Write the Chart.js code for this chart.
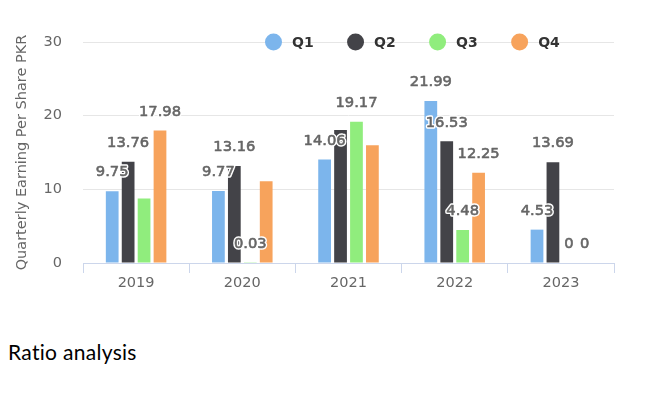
<!DOCTYPE html>
<html><head><meta charset="utf-8">
<script src="https://cdn.jsdelivr.net/npm/chart.js@4"></script>
<style>
html,body{margin:0;padding:0;background:#fff;width:658px;height:393px;overflow:hidden}
#wrap{position:absolute;left:0;top:0;width:658px;height:300px}
#note{position:absolute;left:8px;top:340.5px;font-family:Lato,sans-serif;font-size:21px;line-height:21px;letter-spacing:0.3px;color:#000;white-space:nowrap}
</style></head><body>
<div id="wrap"><canvas id="c"></canvas></div>
<div id="note">Ratio analysis</div>
<script>
const categories = ['2019', '2020', '2021', '2022', '2023'];
const seriesNames = ['Q1', 'Q2', 'Q3', 'Q4'];
const q1 = [9.75, 9.77, 14.06, 21.99, 4.53];
const q2 = [13.76, 13.16, 18.05, 16.53, 13.69];
const q3 = [8.75, 0.03, 19.17, 4.48, 0];
const q4 = [17.98, 11.1, 16.0, 12.25, 0];
const yTicks = [0, 10, 20, 30];
const yTitle = 'Quarterly Earning Per Share PKR';
// [series index, category index] of value labels hidden in the original
const hiddenLabels = [[2, 0], [3, 1], [1, 2], [3, 2]];

const palette = ['#7cb5ec', '#434348', '#90ed7d', '#f7a35c'];
const seriesValues = [q1, q2, q3, q4];

const valueLabels = {
  id: 'valueLabels',
  afterDatasetsDraw(chart) {
    const ctx = chart.ctx;
    ctx.save();
    ctx.font = '14.7px "DejaVu Sans"';
    ctx.textAlign = 'center';
    ctx.textBaseline = 'middle';
    ctx.lineJoin = 'round';
    chart.data.datasets.forEach((ds, si) => {
      const meta = chart.getDatasetMeta(si);
      meta.data.forEach((bar, ci) => {
        if (hiddenLabels.some(h => h[0] === si && h[1] === ci)) return;
        const txt = String(ds.data[ci]);
        const y = bar.y - 18.5;
        ctx.strokeStyle = '#fff';
        ctx.lineWidth = 3.5;
        ctx.strokeText(txt, bar.x, y);
        ctx.fillStyle = '#666666';
        ctx.fillText(txt, bar.x, y);
        ctx.strokeStyle = '#666666';
        ctx.lineWidth = 0.6;
        ctx.strokeText(txt, bar.x, y);
      });
    });
    ctx.restore();
  }
};

const topLegend = {
  id: 'topLegend',
  afterDraw(chart) {
    const ctx = chart.ctx;
    ctx.save();
    ctx.font = 'bold 14px "DejaVu Sans"';
    ctx.textBaseline = 'middle';
    ctx.textAlign = 'left';
    let x = 265;
    const y = chart.chartArea.top;
    chart.data.datasets.forEach(ds => {
      ctx.fillStyle = ds.backgroundColor;
      ctx.beginPath();
      ctx.arc(x + 8.5, y, 8.5, 0, Math.PI * 2);
      ctx.fill();
      ctx.fillStyle = '#333333';
      ctx.fillText(ds.label, x + 27, y + 1);
      x += 27 + ctx.measureText(ds.label).width + 33.4;
    });
    ctx.restore();
  }
};

new Chart(document.getElementById('c'), {
  type: 'bar',
  data: {
    labels: categories,
    datasets: seriesNames.map((n, i) => ({
      label: n,
      data: seriesValues[i],
      backgroundColor: palette[i],
      borderWidth: 0,
      categoryPercentage: 0.6,
      barPercentage: 0.8
    }))
  },
  options: {
    responsive: true,
    maintainAspectRatio: false,
    animation: false,
    layout: { padding: { top: 42, right: 44, bottom: 0, left: 0 } },
    plugins: { legend: { display: false }, tooltip: { enabled: false } },
    scales: {
      x: {
        afterFit(s) { s.height = 37; },
        grid: { offset: true, drawOnChartArea: false, drawTicks: true, tickLength: 10, color: '#ccd6eb' },
        border: { color: '#ccd6eb', width: 1 },
        ticks: { color: '#666666', font: { family: 'DejaVu Sans', size: 14.5 }, padding: 2 }
      },
      y: {
        min: 0, max: 30,
        afterFit(s) { s.width = 83; },
        afterBuildTicks(s) { s.ticks = yTicks.map(v => ({ value: v })); },
        grid: { drawTicks: false, color: c => (c.tick && c.tick.value === 0) ? 'rgba(0,0,0,0)' : '#e6e6e6' },
        border: { display: false },
        ticks: { color: '#666666', font: { family: 'DejaVu Sans', size: 14.5 }, padding: 21 },
        title: { display: true, text: yTitle, color: '#666666', font: { family: 'DejaVu Sans', size: 14.5 }, padding: { top: 14, bottom: 0 } }
      }
    }
  },
  plugins: [valueLabels, topLegend]
});
</script>
</body></html>
